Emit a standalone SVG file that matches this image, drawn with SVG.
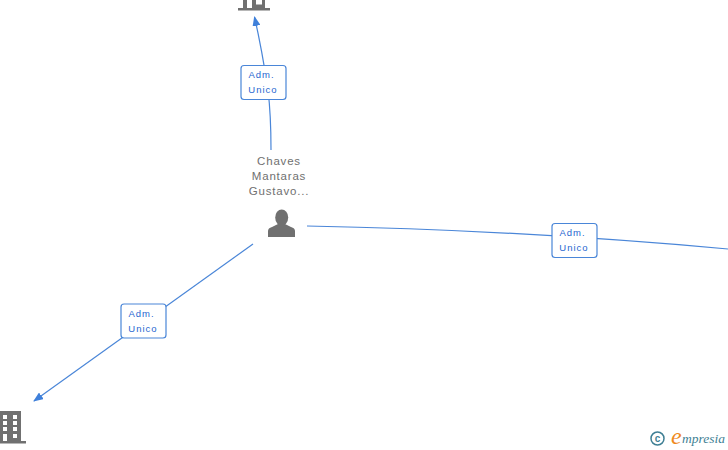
<svg xmlns="http://www.w3.org/2000/svg" width="728" height="450" viewBox="0 0 728 450">
<style>
.edge{fill:none;stroke:#4a86d8;stroke-width:1.2}
.box{fill:#fff;stroke:#4a86d8;stroke-width:1.2}
.lbl{font-family:"Liberation Sans",Arial,sans-serif;font-size:9.500px;fill:#1f66d0;text-anchor:middle;letter-spacing:1px}
.name{font-family:"Liberation Sans",Arial,sans-serif;font-size:11.500px;fill:#707070;text-anchor:middle;letter-spacing:.8px}
.ico{fill:#707070}
.win{fill:#fff}
</style>
<defs><marker id="arr" markerWidth="10" markerHeight="8" refX="9" refY="4" orient="auto" markerUnits="userSpaceOnUse"><path d="M0 0L10 4L0 8Z" fill="#3f80da"/></marker></defs>
<rect width="728" height="450" fill="#fff"/>
<g id="connectors">
<path class="edge" d="M271 150Q271 115 268 90Q262 50 254.500 17" marker-end="url(#arr)"/>
<path class="edge" d="M253 244L34 401" marker-end="url(#arr)"/>
<path class="edge" d="M307 226Q520 230 728 249"/>
</g>
<g id="edge-label-1"><rect class="box" x="241" y="65.500" width="45" height="34" rx="3"/><text class="lbl" x="261.500" y="78">Adm.</text><text class="lbl" x="263" y="93">Unico</text></g>
<g id="edge-label-2"><rect class="box" x="121" y="304" width="45" height="34" rx="3"/><text class="lbl" x="141.500" y="317">Adm.</text><text class="lbl" x="143" y="332">Unico</text></g>
<g id="edge-label-3"><rect class="box" x="552" y="223.500" width="45" height="34" rx="3"/><text class="lbl" x="572.500" y="236">Adm.</text><text class="lbl" x="574" y="251">Unico</text></g>
<g id="person">
<text class="name" x="279" y="165">Chaves</text><text class="name" x="279" y="180">Mantaras</text><text class="name" x="279" y="195" letter-spacing=".4">Gustavo...</text>
<ellipse class="ico" cx="281.700" cy="217.500" rx="6.500" ry="8"/>
<path class="ico" d="M268 237V231Q268 228 272 227L278 224H285L291 227Q295 228 295 231V237Z"/>
</g>
<g id="company-top">
<path class="ico" d="M243 0H265V8H270V10.500H238V8H243Z"/>
<rect class="win" x="247" y="0" width="5" height="8"/><rect class="win" x="256" y="0" width="6" height="4.500"/>
</g>
<g id="company-bottom">
<path class="ico" d="M0 411H21V441H26V443.500H0Z"/>
<rect class="win" x="3" y="415" width="4" height="4"/><rect class="win" x="13" y="415" width="4" height="4"/>
<rect class="win" x="3" y="421" width="4" height="4"/><rect class="win" x="13" y="421" width="4" height="4"/>
<rect class="win" x="3" y="427" width="4" height="4"/><rect class="win" x="13" y="427" width="4" height="4"/>
<rect class="win" x="3" y="434" width="4" height="7"/><rect class="win" x="13" y="434" width="4" height="4"/>
</g>
<g id="logo">
<circle cx="657.500" cy="438.500" r="6.500" fill="none" stroke="#3f7f94" stroke-width="1.500"/>
<text x="657.500" y="442" font-family="Liberation Sans,sans-serif" font-size="10" font-weight="bold" fill="#3f7f94" text-anchor="middle">c</text>
<text x="671" y="444" font-family="Liberation Serif,serif" font-size="24" font-style="italic" fill="#ef8a1d">e</text>
<text x="682" y="443" font-family="Liberation Serif,serif" font-size="13.500" font-style="italic" fill="#3f7f94">mpresia</text>
</g>
</svg>
